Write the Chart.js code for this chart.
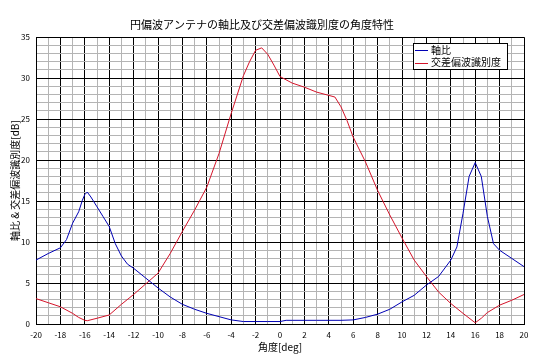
<!DOCTYPE html>
<html>
<head>
<meta charset="utf-8">
<script src="https://cdn.jsdelivr.net/npm/chart.js@4/dist/chart.umd.min.js"></script>
<style>
  body { margin: 0; background: #fff; }
</style>
</head>
<body>
<canvas id="chart" width="544" height="361"></canvas>
<script>
// 軸比 (blue)
const arAngles = [-20, -19, -18, -17.5, -17, -16.5, -16.2, -16, -15.8, -15.5, -15, -14.5, -14, -13.5, -13, -12.5, -12, -11, -10, -9, -8, -7, -6, -5, -4, -3, -2, -1, 0, 0.5, 1, 2, 3, 4, 5, 6, 7, 8, 9, 10, 11, 12, 13, 14, 14.5, 15, 15.5, 16, 16.5, 17, 17.5, 18, 19, 20];
const axialRatio = [7.8, 8.6, 9.3, 10.3, 12.3, 13.7, 15.1, 15.8, 16.1, 15.5, 14.3, 13.1, 11.9, 9.8, 8.3, 7.3, 6.8, 5.6, 4.4, 3.3, 2.4, 1.8, 1.3, 0.9, 0.5, 0.3, 0.3, 0.3, 0.3, 0.45, 0.45, 0.45, 0.45, 0.45, 0.45, 0.5, 0.8, 1.2, 1.8, 2.7, 3.5, 4.75, 5.8, 7.8, 9.4, 13.5, 18.0, 19.7, 18.0, 13.1, 9.8, 9.0, 8.0, 7.0];

// 交差偏波識別度 (red)
const xpdAngles = [-20, -19, -18, -17, -16.5, -16, -15.8, -15, -14, -13, -12, -11, -10, -9, -8, -7, -6, -5, -4, -3, -2.5, -2, -1.5, -1, -0.5, 0, 1, 2, 3, 4, 4.5, 5, 5.5, 6, 7, 8, 9, 10, 11, 12, 13, 14, 15, 16, 16.5, 17, 18, 19, 20];
const xpd = [3.1, 2.6, 2.1, 1.3, 0.8, 0.45, 0.4, 0.7, 1.1, 2.4, 3.6, 4.9, 6.2, 8.6, 11.3, 13.9, 16.7, 20.8, 25.7, 30.3, 32.0, 33.4, 33.7, 32.9, 31.6, 30.2, 29.4, 28.9, 28.3, 27.9, 27.7, 26.5, 24.8, 22.8, 19.8, 16.3, 13.3, 10.5, 7.8, 5.8, 3.9, 2.5, 1.3, 0.15, 0.7, 1.4, 2.3, 2.9, 3.6];

const seriesNames = ['軸比', '交差偏波識別度'];
const seriesColors = ['#0000b4', '#d4142a'];

const fontFamily = '"Noto Sans CJK JP", "Noto Sans", sans-serif';

function toPoints(xs, ys) {
  return xs.map((x, i) => ({ x: x, y: ys[i] }));
}

// legend box drawn inside the plot, top right
const boxLegend = {
  id: 'boxLegend',
  afterDraw(chart) {
    const ctx = chart.ctx;
    const x = 413, y = 43, w = 94, h = 26;
    ctx.save();
    ctx.fillStyle = '#fff';
    ctx.fillRect(x, y, w, h);
    ctx.strokeStyle = '#000';
    ctx.lineWidth = 1;
    ctx.strokeRect(x + 0.5, y + 0.5, w, h);
    ctx.font = '10px ' + fontFamily;
    ctx.textBaseline = 'middle';
    chart.data.datasets.forEach((ds, i) => {
      const ly = y + 7 + i * 12.5;
      ctx.strokeStyle = seriesColors[i];
      ctx.beginPath();
      ctx.moveTo(x + 2, Math.round(ly) + 0.5);
      ctx.lineTo(x + 15, Math.round(ly) + 0.5);
      ctx.stroke();
      ctx.fillStyle = '#000';
      ctx.fillText(ds.label, x + 18, ly);
    });
    ctx.restore();
  }
};

new Chart(document.getElementById('chart'), {
  type: 'line',
  data: {
    datasets: [
      {
        label: seriesNames[0],
        data: toPoints(arAngles, axialRatio),
        borderColor: seriesColors[0],
        borderWidth: 1,
        pointRadius: 0,
        tension: 0
      },
      {
        label: seriesNames[1],
        data: toPoints(xpdAngles, xpd),
        borderColor: seriesColors[1],
        borderWidth: 1,
        pointRadius: 0,
        tension: 0
      }
    ]
  },
  options: {
    responsive: false,
    animation: false,
    layout: { padding: { left: 0, right: 20, top: 0, bottom: 0 } },
    plugins: {
      legend: { display: false },
      tooltip: { enabled: false },
      title: {
        display: true,
        text: '円偏波アンテナの軸比及び交差偏波識別度の角度特性',
        color: '#000',
        font: { family: fontFamily, size: 11, weight: 'normal' },
        padding: { top: 18, bottom: 6 }
      }
    },
    scales: {
      x: {
        type: 'linear',
        min: -20,
        max: 20,
        afterFit(scale) { scale.height = 37; },
        ticks: {
          stepSize: 1,
          autoSkip: false,
          maxRotation: 0,
          padding: 6,
          color: '#000',
          font: { family: fontFamily, size: 8 },
          callback: v => (v % 2 === 0 ? String(v) : '')
        },
        grid: {
          drawTicks: false,
          color: c => (c.tick && c.tick.value % 2 === 0 ? '#000' : '#b4b4b4')
        },
        border: { color: '#000' },
        title: {
          display: true,
          text: '角度[deg]',
          color: '#000',
          font: { family: fontFamily, size: 10 },
          padding: { top: 0, bottom: 8 }
        }
      },
      y: {
        min: 0,
        max: 35,
        afterFit(scale) { scale.width = 36; },
        ticks: {
          stepSize: 1,
          autoSkip: false,
          padding: 6,
          color: '#000',
          font: { family: fontFamily, size: 8 },
          callback: v => (v % 5 === 0 ? String(v) : '')
        },
        grid: {
          drawTicks: false,
          color: c => (c.tick && c.tick.value % 5 === 0 ? '#000' : '#b4b4b4')
        },
        border: { color: '#000' },
        title: {
          display: true,
          text: '軸比 & 交差偏波識別度[dB]',
          color: '#000',
          font: { family: fontFamily, size: 10 },
          padding: { top: 9, bottom: 0 }
        }
      }
    }
  },
  plugins: [boxLegend]
});
</script>
</body>
</html>
